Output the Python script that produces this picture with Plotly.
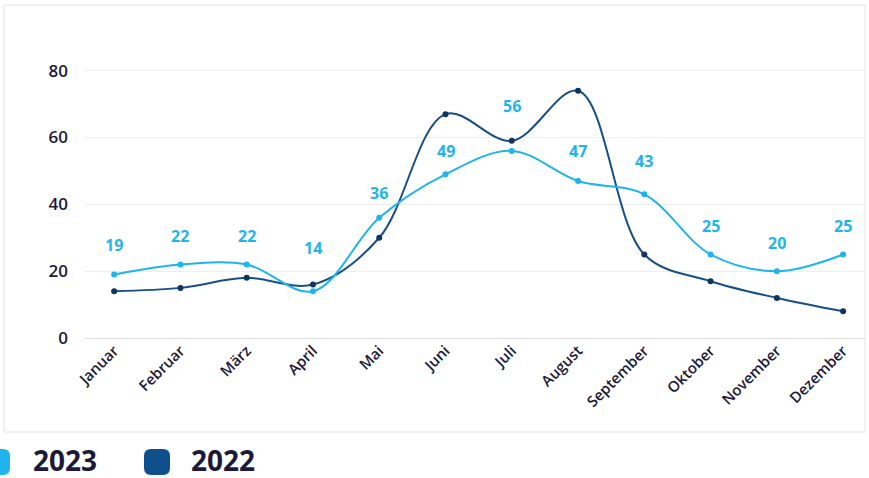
import plotly.graph_objects as go

months = ["Januar", "Februar", "März", "April", "Mai", "Juni", "Juli",
          "August", "September", "Oktober", "November", "Dezember"]
values_2023 = [19, 22, 22, 14, 36, 49, 56, 47, 43, 25, 20, 25]
values_2022 = [14, 15, 18, 16, 30, 67, 59, 74, 25, 17, 12, 8]
y_ticks = [0, 20, 40, 60, 80]

# label offsets above the 2023 points (pixels)
label_shift = [30, 28, 28, 43, 25, 23, 45, 30, 33, 28, 28, 28]

LIGHT = "#1fb4ec"
DARK_LINE = "#174f86"
DARK_MARK = "#0f3460"
TEXT = "#1c1a38"

W, H = 869, 478
ML, MR, MT, MB = 85, 4, 54, 140
pw, ph = W - ML - MR, H - MT - MB


def px_x(x):
    return (x - ML) / pw


def px_y(y):
    return (H - MB - y) / ph


fig = go.Figure()
fig.add_trace(go.Scatter(
    x=months, y=values_2022, mode="lines+markers", name="2022",
    line=dict(color=DARK_LINE, width=2, shape="spline", smoothing=1.0),
    marker=dict(color=DARK_MARK, size=6), hoverinfo="skip"))
fig.add_trace(go.Scatter(
    x=months, y=values_2023, mode="lines+markers", name="2023",
    line=dict(color=LIGHT, width=2, shape="spline", smoothing=1.0),
    marker=dict(color=LIGHT, size=6), hoverinfo="skip"))

for m, v, s in zip(months, values_2023, label_shift):
    fig.add_annotation(x=m, y=v, text=f"<b>{v}</b>", showarrow=False,
                       yshift=s, font=dict(family="Open Sans", size=16, color=LIGHT))


def rounded_square(x0, y0, x1, y1, r):
    # pixel rectangle with rounded corners -> paper path
    X = lambda v: f"{px_x(v):.5f}"
    Y = lambda v: f"{px_y(v):.5f}"
    return (f"M {X(x0 + r)},{Y(y0)} L {X(x1 - r)},{Y(y0)} "
            f"Q {X(x1)},{Y(y0)} {X(x1)},{Y(y0 + r)} L {X(x1)},{Y(y1 - r)} "
            f"Q {X(x1)},{Y(y1)} {X(x1 - r)},{Y(y1)} L {X(x0 + r)},{Y(y1)} "
            f"Q {X(x0)},{Y(y1)} {X(x0)},{Y(y1 - r)} L {X(x0)},{Y(y0 + r)} "
            f"Q {X(x0)},{Y(y0)} {X(x0 + r)},{Y(y0)} Z")


# frame around the chart
fig.add_shape(type="rect", xref="paper", yref="paper",
              x0=px_x(4), x1=px_x(865), y0=px_y(432), y1=px_y(5),
              line=dict(color="#e4e4e4", width=1), fillcolor="rgba(0,0,0,0)", layer="below")

# legend
legend_items = [("2023", LIGHT, -16, 31), ("2022", "#0f4f8c", 144, 189)]
for label, col, mx, tx in legend_items:
    fig.add_shape(type="path", xref="paper", yref="paper",
                  path=rounded_square(mx, 449, mx + 26, 475, 7),
                  fillcolor=col, line=dict(width=0))
    fig.add_annotation(xref="paper", yref="paper", x=px_x(tx), y=px_y(460),
                       xanchor="left", yanchor="middle", showarrow=False,
                       text=f"<b>{label}</b>",
                       font=dict(family="Open Sans", size=28, color=TEXT))

fig.update_layout(
    width=W, height=H, margin=dict(l=ML, r=MR, t=MT, b=MB),
    paper_bgcolor="white", plot_bgcolor="white", showlegend=False,
    xaxis=dict(range=[-0.44, 11.33], tickangle=-45, showgrid=False,
               zeroline=False, showline=False, ticks="",
               tickfont=dict(family="Open Sans", size=15, color=TEXT, weight=600)),
    yaxis=dict(range=[0, 85], tickvals=y_ticks, showgrid=True,
               gridcolor="#eeeeee", gridwidth=1, zeroline=True,
               zerolinecolor="#dcdcdc", zerolinewidth=1, showline=False,
               ticklabelstandoff=16,
               tickfont=dict(family="Open Sans", size=17, color=TEXT, weight=600)),
)

fig.write_html("out.html")
